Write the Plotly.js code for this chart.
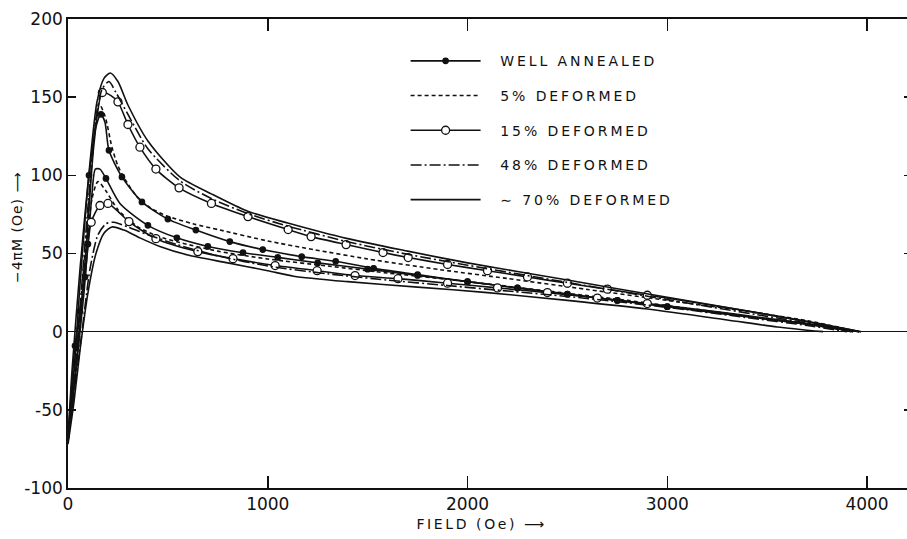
<!DOCTYPE html>
<html>
<head>
<meta charset="utf-8">
<script src="https://cdn.plot.ly/plotly-3.0.1.min.js"></script>
<style>
html, body { margin: 0; padding: 0; overflow: hidden; background: #fff; }
#chart { width: 912px; height: 539px; }
.legendtext { letter-spacing: 2.9px; }
.annotation[data-index="0"] .annotation-text { letter-spacing: 2.6px; }
.annotation[data-index="1"] .annotation-text { letter-spacing: 1px; }
</style>
</head>
<body>
<div id="chart"></div>
<script>
// ---- Data (field in Oe, -4πM in Oe) ----
// Well annealed (filled dots) – upper and lower branches
const field_annealed_up = [0, 30, 60, 105, 140, 165, 185, 205, 270, 370, 500, 640, 810, 975, 1170, 1340, 1530, 1750, 2000, 2250, 2500, 2750, 3000, 3250, 3500, 3750, 3960];
const m_annealed_up     = [-68, -25, 30, 100, 131, 139, 134, 116, 99, 83, 72, 65, 57.6, 52.5, 48, 45, 40.5, 36.5, 32, 28, 24, 20, 16, 12, 8, 4, 0];
const dots_annealed_up  = [105, 165, 205, 270, 370, 500, 640, 810, 975, 1170, 1340, 1530, 1750, 2000, 2250, 2500, 2750, 3000];

const field_annealed_dn = [0, 35, 60, 85, 100, 120, 137, 160, 190, 260, 400, 545, 700, 876, 1050, 1250, 1500, 1750, 2000, 2250, 2500, 2750, 3000, 3250, 3500, 3750, 3930];
const m_annealed_dn     = [-68, -9, 13, 35, 56, 88, 104, 104, 98, 82, 68, 60, 54.5, 50.5, 47.5, 44, 40, 36, 32, 28, 24, 20, 16, 12, 8, 4, 0];
const dots_annealed_dn  = [35, 60, 85, 100, 190, 400, 545, 700, 876, 1050, 1250, 1500, 1750, 2000, 2250, 2500, 2750, 3000];

// 5 % deformed (dashed)
const field_d5_up = [0, 30, 60, 100, 130, 155, 185, 220, 250, 295, 345, 410, 495, 626, 761, 1000, 1230, 1500, 1860, 2200, 2600, 3000, 3400, 3700, 3960];
const m_d5_up     = [-70, -30, 12, 75, 125, 146, 138, 118, 106, 95.4, 86.4, 79.4, 74, 69, 65, 58, 52.5, 46.5, 39.7, 34, 27, 20, 13, 7, 0];
const field_d5_dn = [0, 30, 60, 90, 120, 150, 190, 250, 350, 450, 560, 750, 1000, 1300, 1600, 1900, 2200, 2500, 2800, 3100, 3400, 3700, 3920];
const m_d5_dn     = [-70, -30, 10, 50, 85, 96, 90, 78, 67, 61, 57, 51.5, 46.5, 42, 37.5, 33.5, 29, 24.5, 20, 15, 10, 5, 0];

// 15 % deformed (open circles)
const field_d15_up = [0, 30, 60, 95, 130, 172, 215, 250, 300, 360, 440, 556, 718, 901, 1102, 1217, 1392, 1577, 1703, 1900, 2100, 2300, 2500, 2700, 2900, 3100, 3400, 3700, 3970];
const m_d15_up     = [-70, -35, 5, 60, 120, 153, 151, 147, 132.5, 118, 104, 92, 82, 73.6, 65.3, 60.8, 55.7, 50.6, 47.4, 43, 39, 35, 31, 27.2, 23.3, 19.5, 13.2, 6.6, 0];
const dots_d15_up  = [172, 250, 300, 360, 440, 556, 718, 901, 1102, 1217, 1392, 1577, 1703, 1900, 2100, 2300, 2500, 2700, 2900];

const field_d15_dn = [0, 40, 80, 116, 160, 200, 250, 305, 440, 650, 826, 1037, 1247, 1437, 1652, 1900, 2150, 2400, 2650, 2900, 3200, 3500, 3800, 3930];
const m_d15_dn     = [-70, -25, 25, 70, 80.7, 82, 77, 70.4, 59.5, 51.2, 46.7, 42.3, 39, 35.9, 33.9, 31, 28, 25, 21.5, 18, 13.5, 8.5, 3, 0];
const dots_d15_dn  = [116, 160, 200, 305, 440, 650, 826, 1037, 1247, 1437, 1652, 1900, 2150, 2400, 2650, 2900];

// 48 % deformed (dash-dot)
const field_d48_up = [0, 30, 60, 100, 140, 170, 205, 240, 300, 400, 560, 720, 900, 1100, 1400, 1700, 2000, 2500, 3000, 3500, 3960];
const m_d48_up     = [-70, -32, 15, 80, 135, 155, 160, 153, 139, 117, 96.5, 85, 75.5, 67.5, 57.5, 49.5, 42.5, 31.5, 20.5, 9.8, 0];
const field_d48_dn = [0, 30, 70, 110, 150, 190, 230, 300, 400, 550, 750, 1000, 1300, 1600, 1900, 2200, 2500, 2800, 3100, 3400, 3700, 3900];
const m_d48_dn     = [-70, -40, 0, 40, 62, 69, 70, 67, 62, 55.5, 48.5, 42, 37, 33, 29.5, 26, 22.5, 18.5, 14, 9, 4, 0];

// ~70 % deformed (solid)
const field_d70_up = [0, 20, 60, 100, 145, 180, 212, 250, 300, 400, 560, 720, 900, 1100, 1400, 1700, 2000, 2500, 3000, 3500, 3970];
const m_d70_up     = [-68, -25, 40, 95, 147, 162, 165.5, 160, 145, 122, 99, 88, 77, 69.5, 59.5, 51.5, 44, 33, 22, 11, 0];
const field_d70_dn = [0, 30, 60, 100, 140, 180, 220, 280, 360, 460, 600, 800, 1000, 1130, 1400, 1750, 2100, 2500, 2900, 3300, 3550, 3780];
const m_d70_dn     = [-72, -45, -12, 25, 50, 63, 67, 65, 60, 54.5, 49, 44, 39, 35.5, 32, 28.5, 25, 20, 14.5, 7.5, 3, 0];

const legendNames = ['WELL ANNEALED', '5% DEFORMED', '15% DEFORMED', '48% DEFORMED', '\u223C 70% DEFORMED'];
const yTickVals = [-100, -50, 0, 50, 100, 150, 200];
const yTickText = ['-100', '-50', '0', '50', '100', '150', '200'];
const xTickVals = [0, 1000, 2000, 3000, 4000];
const xTickText = ['0', '1000', '2000', '3000', '4000'];

// ---- Styles ----
const INK = '#111111';
const LW = 1.6;
const styles = [
  { dash: 'solid', symbol: 'circle', size: 5.5, fill: INK, lw: 1.2 },
  { dash: '4px,3px', symbol: null },
  { dash: 'solid', symbol: 'circle', size: 8, fill: '#ffffff', lw: 1.3 },
  { dash: '11px,3px,2px,3px', symbol: null },
  { dash: 'solid', symbol: null }
];

function curve(fx, fy, dots, st) {
  const t = {
    type: 'scatter', x: fx, y: fy, showlegend: false, hoverinfo: 'skip',
    mode: st.symbol ? 'lines+markers' : 'lines',
    line: { color: INK, width: LW, dash: st.dash, shape: 'spline', smoothing: 0.7 },
    cliponaxis: true
  };
  if (st.symbol) {
    t.marker = {
      symbol: st.symbol, color: st.fill, opacity: 1,
      size: fx.map(f => dots.includes(f) ? st.size : 0),
      line: { color: INK, width: st.lw }
    };
  }
  return t;
}
function legendEntry(i) {
  const st = styles[i];
  const t = {
    type: 'scatter', x: [null], y: [null], name: '\u00A0\u00A0' + legendNames[i], legendgroup: 'g' + i,
    mode: st.symbol ? 'lines+markers' : 'lines',
    line: { color: INK, width: LW, dash: st.dash }
  };
  if (st.symbol) t.marker = { symbol: st.symbol, color: st.fill, size: st.size, opacity: 1, line: { color: INK, width: st.lw } };
  return t;
}

const data = [
  curve(field_annealed_up, m_annealed_up, dots_annealed_up, styles[0]),
  curve(field_annealed_dn, m_annealed_dn, dots_annealed_dn, styles[0]),
  curve(field_d5_up, m_d5_up, [], styles[1]),
  curve(field_d5_dn, m_d5_dn, [], styles[1]),
  curve(field_d15_up, m_d15_up, dots_d15_up, styles[2]),
  curve(field_d15_dn, m_d15_dn, dots_d15_dn, styles[2]),
  curve(field_d48_up, m_d48_up, [], styles[3]),
  curve(field_d48_dn, m_d48_dn, [], styles[3]),
  curve(field_d70_up, m_d70_up, [], styles[4]),
  curve(field_d70_dn, m_d70_dn, [], styles[4]),
  legendEntry(0), legendEntry(1), legendEntry(2), legendEntry(3), legendEntry(4)
];

const FONT = 'DejaVu Sans, Liberation Sans, sans-serif';
const layout = {
  width: 912, height: 539,
  margin: { l: 68, r: 0, t: 19, b: 51 },
  paper_bgcolor: '#ffffff', plot_bgcolor: '#ffffff',
  font: { family: FONT, color: INK, size: 16 },
  showlegend: true,
  legend: {
    x: 0.4, y: 0.944, xanchor: 'left', yanchor: 'top',
    bgcolor: 'rgba(0,0,0,0)', borderwidth: 0,
    font: { family: FONT, size: 14, color: INK },
    traceorder: 'grouped', tracegroupgap: 13.5, itemwidth: 70
  },
  xaxis: {
    range: [0, 4225], showgrid: false, zeroline: false,
    showline: true, linecolor: INK, linewidth: 1.8, mirror: 'ticks',
    ticks: 'inside', ticklen: 12, tickwidth: 1.5, tickcolor: INK,
    tickvals: xTickVals, ticktext: xTickText,
    tickfont: { family: FONT, size: 17, color: INK }
  },
  yaxis: {
    range: [-100, 200], showgrid: false,
    zeroline: true, zerolinecolor: INK, zerolinewidth: 1.6,
    showline: true, linecolor: INK, linewidth: 1.8, mirror: 'ticks',
    ticks: 'inside', ticklen: 8, tickwidth: 1.5, tickcolor: INK,
    tickvals: yTickVals, ticktext: yTickText,
    tickfont: { family: FONT, size: 17, color: INK }
  },
  annotations: [
    { text: 'FIELD (Oe) \u27F6', xref: 'paper', yref: 'paper', x: 0.49, y: -0.077,
      xanchor: 'center', yanchor: 'middle', showarrow: false,
      font: { family: FONT, size: 14, color: INK } },
    { text: '\u22124\u03C0M (Oe) \u27F6', xref: 'paper', yref: 'paper', x: -0.060, y: 0.556,
      xanchor: 'center', yanchor: 'middle', showarrow: false, textangle: -90,
      font: { family: FONT, size: 14, color: INK } }
  ]
};

Plotly.newPlot('chart', data, layout, { displayModeBar: false, staticPlot: true, responsive: false });
</script>
</body>
</html>
